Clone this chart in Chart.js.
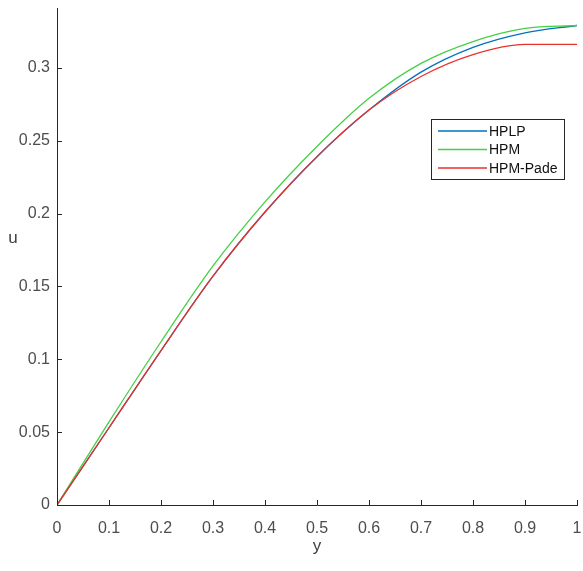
<!DOCTYPE html>
<html>
<head>
<meta charset="utf-8">
<script src="https://cdn.jsdelivr.net/npm/chart.js@4/dist/chart.umd.min.js"></script>
<style>
  html, body { margin: 0; padding: 0; background: #fff; }
  #wrap { width: 583px; height: 571px; }
</style>
</head>
<body>
<div id="wrap"><canvas id="uChart" width="583" height="571"></canvas></div>
<script>
// Data
const yPos = [0, 0.1, 0.2, 0.3, 0.4, 0.5, 0.6, 0.7, 0.8, 0.9, 1.0];
const hplp = [0, 0.053, 0.106, 0.157, 0.201, 0.239, 0.271, 0.297, 0.314, 0.324, 0.329];
const hpm = [0, 0.057, 0.112, 0.164, 0.208, 0.246, 0.279, 0.303, 0.318, 0.327, 0.329];
const hpmPade = [0, 0.053, 0.106, 0.157, 0.201, 0.239, 0.271, 0.294, 0.309, 0.316, 0.316];
const seriesNames = ['HPLP', 'HPM', 'HPM-Pade'];
const xTicks = [0, 0.1, 0.2, 0.3, 0.4, 0.5, 0.6, 0.7, 0.8, 0.9, 1];
const yTicks = [0, 0.05, 0.1, 0.15, 0.2, 0.25, 0.3];

const colors = ['#0072BD', '#44d044', '#e8312b'];
const font = '"Liberation Sans", Arial, sans-serif';

function toPoints(vals) {
	return yPos.map((x, i) => ({ x: x, y: vals[i] }));
}

const fmt = (v) => String(Number(v.toFixed(2)));

// Inward tick marks, axis labels and a legend box inside the plot
const matlabBits = {
	id: 'matlabBits',
	afterDraw(chart) {
		const c = chart.ctx;
		const xs = chart.scales.x;
		const ys = chart.scales.y;
		const area = chart.chartArea;
		c.save();
		c.strokeStyle = '#262626';
		c.lineWidth = 1;
		c.beginPath();
		for (const t of xTicks) {
			const px = Math.round(xs.getPixelForValue(t)) + 0.5;
			c.moveTo(px, area.bottom);
			c.lineTo(px, area.bottom - 5);
		}
		for (const t of yTicks) {
			const py = Math.round(ys.getPixelForValue(t)) + 0.5;
			c.moveTo(area.left, py);
			c.lineTo(area.left + 5, py);
		}
		c.stroke();

		// axis labels
		c.fillStyle = '#404040';
		c.font = '17px ' + font;
		c.textAlign = 'center';
		c.textBaseline = 'middle';
		c.fillText('y', (area.left + area.right) / 2, 546);
		c.fillText('u', 13, 238);

		// legend
		const bx = 431, by = 119, bw = 133, bh = 60;
		c.fillStyle = '#fff';
		c.fillRect(bx, by, bw, bh);
		c.strokeStyle = '#262626';
		c.strokeRect(bx + 0.5, by + 0.5, bw, bh);
		c.font = '14px ' + font;
		c.textAlign = 'left';
		chart.data.datasets.forEach((ds, i) => {
			const ly = by + 12 + i * 18.5;
			c.strokeStyle = ds.borderColor;
			c.lineWidth = 1.3;
			c.beginPath();
			c.moveTo(bx + 7, ly);
			c.lineTo(bx + 56, ly);
			c.stroke();
			c.fillStyle = '#111';
			c.fillText(ds.label, bx + 58, ly + 1);
		});
		c.restore();
	},
};

const chart = new Chart(document.getElementById('uChart').getContext('2d'), {
	type: 'line',
	data: {
		datasets: [
			{ label: seriesNames[0], data: toPoints(hplp), borderColor: colors[0], order: 2 },
			{ label: seriesNames[1], data: toPoints(hpm), borderColor: colors[1], order: 1 },
			{ label: seriesNames[2], data: toPoints(hpmPade), borderColor: colors[2], order: 0 },
		],
	},
	options: {
		responsive: false,
		animation: false,
		events: [],
		layout: { padding: { top: 8, right: 6, left: 0, bottom: 0 } },
		elements: {
			point: { radius: 0 },
			line: { borderWidth: 1.3, cubicInterpolationMode: 'monotone', fill: false },
		},
		plugins: { legend: { display: false }, tooltip: { enabled: false } },
		scales: {
			x: {
				type: 'linear',
				min: 0,
				max: 1,
				afterBuildTicks: (s) => { s.ticks = xTicks.map((v) => ({ value: v })); },
				afterFit: (s) => { s.height = 66; s.paddingLeft = 0; s.paddingRight = 0; },
				grid: { display: false, drawTicks: false },
				border: { display: true, color: '#262626', width: 1 },
				ticks: {
					padding: 14,
					color: '#4d4d4d',
					font: { family: font, size: 16 },
					maxRotation: 0,
					callback: (v) => fmt(v),
				},
			},
			y: {
				type: 'linear',
				min: 0,
				max: 0.341,
				afterBuildTicks: (s) => { s.ticks = yTicks.map((v) => ({ value: v })); },
				afterFit: (s) => { s.width = 57; s.paddingTop = 0; s.paddingBottom = 0; },
				grid: { display: false, drawTicks: false },
				border: { display: true, color: '#262626', width: 1 },
				ticks: {
					padding: 7,
					color: '#4d4d4d',
					font: { family: font, size: 16 },
					callback: (v) => fmt(v),
				},
			},
		},
	},
	plugins: [matlabBits],
});
</script>
</body>
</html>
